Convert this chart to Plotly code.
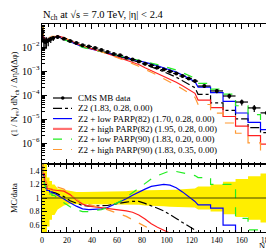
import plotly.graph_objects as go

# ---------------- data ----------------
bin_lo = [0, 1, 2, 3, 4, 6, 8, 10, 15, 20, 25, 30, 35, 40, 45, 50, 55, 60, 65, 70,
          75, 80, 85, 90, 95, 100, 105, 110, 115, 120, 125, 135, 145, 155, 165, 175]
bin_hi = [1, 2, 3, 4, 6, 8, 10, 15, 20, 25, 30, 35, 40, 45, 50, 55, 60, 65, 70, 75,
          80, 85, 90, 95, 100, 105, 110, 115, 120, 125, 135, 145, 155, 165, 175, 185]

cms_data = [0.0422, 0.0178, 0.0162, 0.0170, 0.0186, 0.0214, 0.0237, 0.0263, 0.0224, 0.0178,
            0.0148, 0.0120, 0.0105, 0.0091, 0.0075, 0.0062, 0.0051, 0.0045, 0.0036, 0.0030,
            0.0025, 0.0020, 0.0017, 0.0014, 0.00115, 0.00095, 0.00079, 0.00062, 0.00049, 0.00038,
            0.000237, 0.000148, 0.000091, 0.000051, 0.000029, 0.000018]

rel_err_up = [0.5, 0.5, 0.5, 0.5, 0.30, 0.25, 0.20, 0.14, 0.12, 0.10,
              0.09, 0.09, 0.09, 0.09, 0.09, 0.09, 0.10, 0.10, 0.10, 0.11,
              0.11, 0.11, 0.11, 0.12, 0.12, 0.12, 0.12, 0.13, 0.13, 0.14,
              0.17, 0.20, 0.24, 0.28, 0.32, 0.36]
rel_err_dn = [0.5, 0.5, 0.5, 0.5, 0.42, 0.32, 0.25, 0.17, 0.11, 0.09,
              0.09, 0.09, 0.09, 0.09, 0.09, 0.09, 0.10, 0.10, 0.10, 0.10,
              0.10, 0.11, 0.11, 0.12, 0.12, 0.13, 0.13, 0.13, 0.14, 0.14,
              0.17, 0.20, 0.24, 0.28, 0.32, 0.36]

ratio_z2 = [1.48, 1.35, 1.22, 1.15, 1.11, 1.09, 1.08, 1.06, 1.02, 0.96,
            0.92, 0.89, 0.88, 0.88, 0.88, 0.89, 0.91, 0.93, 0.94, 0.95,
            0.95, 0.92, 0.89, 0.85, 0.81, 0.76, 0.70, 0.64, 0.58, 0.53,
            0.45, 0.32, 0.25, 0.20, 0.15, 0.15]
ratio_low82 = [1.48, 1.33, 1.20, 1.14, 1.11, 1.09, 1.07, 1.04, 0.98, 0.93,
               0.88, 0.84, 0.83, 0.83, 0.84, 0.86, 0.90, 0.94, 0.99, 1.04,
               1.09, 1.13, 1.17, 1.19, 1.20, 1.19, 1.15, 1.09, 1.02, 0.95,
               0.90, 0.85, 0.60, 0.35, 0.25, 0.20]
ratio_high82 = [1.48, 1.36, 1.25, 1.18, 1.14, 1.13, 1.12, 1.11, 1.10, 1.05,
                0.97, 0.91, 0.88, 0.87, 0.86, 0.85, 0.84, 0.83, 0.81, 0.79,
                0.75, 0.69, 0.62, 0.57, 0.52, 0.47, 0.43, 0.39, 0.35, 0.31,
                0.26, 0.20, 0.14, 0.10, 0.07, 0.05]
ratio_low90 = [1.48, 1.32, 1.18, 1.12, 1.09, 1.06, 1.04, 0.99, 0.93, 0.87,
               0.83, 0.80, 0.80, 0.81, 0.83, 0.86, 0.90, 0.95, 1.01, 1.08,
               1.15, 1.22, 1.28, 1.33, 1.37, 1.40, 1.39, 1.37, 1.34, 1.33,
               1.30, 1.20, 1.20, 0.70, 0.53, 0.40]
ratio_high90 = [1.48, 1.38, 1.28, 1.22, 1.19, 1.18, 1.17, 1.16, 1.13, 1.06,
                0.98, 0.93, 0.90, 0.88, 0.86, 0.83, 0.80, 0.77, 0.73, 0.68,
                0.63, 0.57, 0.52, 0.47, 0.42, 0.37, 0.33, 0.29, 0.25, 0.21,
                0.17, 0.12, 0.075, 0.05, 0.035, 0.025]

legend_labels = ["CMS MB data",
                 "Z2 (1.83, 0.28, 0.00)",
                 "Z2 + low PARP(82) (1.70, 0.28, 0.00)",
                 "Z2 + high PARP(82) (1.95, 0.28, 0.00)",
                 "Z2 + low PARP(90) (1.83, 0.20, 0.00)",
                 "Z2 + high PARP(90) (1.83, 0.35, 0.00)"]

x_ticks = [0, 20, 40, 60, 80, 100, 120, 140, 160, 180]
ratio_ticks = [0.6, 0.8, 1.0, 1.2, 1.4]

SERIF = "Liberation Serif"
W, H = 274, 248
L, R, T, B = 34, 9, 16, 24
PW, PH = W - L - R, H - T - B
SPLIT = (224 - 156) / PH


def px(xp):
    return (xp - L) / PW


def py(yp):
    return (H - B - yp) / PH


def hist_path(vals):
    xs, ys = [], []
    for lo, hi, v in zip(bin_lo, bin_hi, vals):
        if hi - lo == 5:
            xs.append((lo + hi) / 2)
            ys.append(v)
        else:
            xs += [lo, hi]
            ys += [v, v]
    return xs, ys


centers = [(a + b) / 2 for a, b in zip(bin_lo, bin_hi)]
halfw = [(b - a) / 2 for a, b in zip(bin_lo, bin_hi)]

mc_series = [
    (ratio_z2, "black", "dashdot"),
    (ratio_low82, "#0000ff", "solid"),
    (ratio_high82, "#ff2020", "solid"),
    (ratio_low90, "#22ee22", "dash"),
    (ratio_high90, "#ff9933", "dash"),
]

fig = go.Figure()

band_up = [1 + e for e in rel_err_up]
band_dn = [1 - e for e in rel_err_dn]
ux, uy = hist_path(band_up)
dx, dy = hist_path(band_dn)
fig.add_trace(go.Scatter(x=ux + dx[::-1], y=uy + dy[::-1], fill="toself",
                         fillcolor="#ffee00", line=dict(width=0), mode="lines",
                         xaxis="x2", yaxis="y2", hoverinfo="skip", showlegend=False))

for ratio, col, dash in mc_series:
    mc_vals = [d * r for d, r in zip(cms_data, ratio)]
    mx, my = hist_path(mc_vals)
    fig.add_trace(go.Scatter(x=mx, y=my, mode="lines",
                             line=dict(color=col, width=1.2, dash=dash),
                             xaxis="x", yaxis="y", showlegend=False))
    rx, ry = hist_path(ratio)
    fig.add_trace(go.Scatter(x=rx, y=ry, mode="lines",
                             line=dict(color=col, width=1.2, dash=dash),
                             xaxis="x2", yaxis="y2", showlegend=False))

fig.add_trace(go.Scatter(
    x=centers, y=cms_data, mode="markers",
    marker=dict(color="black", size=4),
    error_x=dict(type="data", array=halfw, color="black", thickness=1.2, width=0),
    error_y=dict(type="data", symmetric=False,
                 array=[d * e for d, e in zip(cms_data, rel_err_up)],
                 arrayminus=[d * e for d, e in zip(cms_data, rel_err_dn)],
                 color="black", thickness=1.2, width=0),
    xaxis="x", yaxis="y", showlegend=False))

fig.add_shape(type="line", xref="paper", x0=0, x1=1, yref="y2", y0=1, y1=1,
              line=dict(color="#444400", width=1))

leg_y = [90, 100.3, 110.6, 120.9, 131.2, 141.5]
leg_styles = [("black", "solid", 1.2), ("black", "dashdot", 1.2), ("#0000ff", "solid", 1.2),
              ("#ff7070", "solid", 2.2), ("#22ee22", "dash", 1.2), ("#ff9933", "dash", 1.2)]
for (col, dash, wd), yy, lab in zip(leg_styles, leg_y, legend_labels):
    fig.add_shape(type="line", xref="paper", yref="paper",
                  x0=px(45), x1=px(64), y0=py(yy), y1=py(yy),
                  line=dict(color=col, width=wd, dash=dash))
    fig.add_annotation(x=px(68), y=py(yy), xref="paper", yref="paper", text=lab,
                       showarrow=False, xanchor="left", yanchor="middle",
                       font=dict(family=SERIF, size=9, color="black"))
fig.add_shape(type="circle", xref="paper", yref="paper",
              x0=px(53), x1=px(56.5), y0=py(91.75), y1=py(88.25),
              fillcolor="black", line=dict(color="black", width=0))

fig.add_annotation(x=px(33), y=py(7.5), xref="paper", yref="paper",
                   text="N<sub>ch</sub> at √s = 7.0 TeV, |η| < 2.4",
                   showarrow=False, xanchor="left", yanchor="middle",
                   font=dict(family=SERIF, size=10.5, color="black"))
fig.add_annotation(x=px(6), y=py(86), xref="paper", yref="paper",
                   text="(1 / N<sub>ev</sub>) dN<sub>ch</sub> / ΔηΔ(Δφ)",
                   textangle=-90, showarrow=False, xanchor="center", yanchor="middle",
                   font=dict(family=SERIF, size=8.5, color="black"))
fig.add_annotation(x=px(6), y=py(190), xref="paper", yref="paper",
                   text="MC/data", textangle=-90, showarrow=False,
                   xanchor="center", yanchor="middle",
                   font=dict(family=SERIF, size=8.5, color="black"))
fig.add_annotation(x=px(264), y=py(238), xref="paper", yref="paper",
                   text="N<sub>ch</sub>", showarrow=False, xanchor="right", yanchor="middle",
                   borderpad=0, font=dict(family=SERIF, size=8.5, color="black"))

axis_common = dict(showline=True, linecolor="black", linewidth=1, mirror="allticks",
                   ticks="inside", ticklen=5, tickcolor="black", showgrid=False,
                   zeroline=False, tickfont=dict(family=SERIF, size=8, color="black"))

fig.update_layout(
    width=W, height=H, margin=dict(l=L, r=R, t=T, b=B),
    paper_bgcolor="white", plot_bgcolor="white", showlegend=False,
    xaxis=dict(domain=[0, 1], anchor="y", range=[0, 185], tickvals=x_ticks,
               showticklabels=False, matches="x2",
               minor=dict(ticks="inside", ticklen=2.5, dtick=5, tick0=0, tickcolor="black"),
               **axis_common),
    yaxis=dict(domain=[SPLIT, 1], anchor="x", type="log", range=[-6.875, -1.04],
               dtick=1, exponentformat="power", showexponent="all",
               minor=dict(ticks="inside", ticklen=2.5, dtick="D1", tickcolor="black"),
               **axis_common),
    xaxis2=dict(domain=[0, 1], anchor="y2", range=[0, 185], tickvals=x_ticks,
                ticklabelstandoff=0,
                minor=dict(ticks="inside", ticklen=2.5, dtick=5, tick0=0, tickcolor="black"),
                **axis_common),
    yaxis2=dict(domain=[0, SPLIT], anchor="x2", range=[0.5, 1.5], tickvals=ratio_ticks,
                ticktext=["0.6", "0.8", "1", "1.2", "1.4"],
                minor=dict(ticks="inside", ticklen=2.5, dtick=0.05, tick0=0, tickcolor="black"),
                **axis_common),
)

fig.write_html("out.html")
